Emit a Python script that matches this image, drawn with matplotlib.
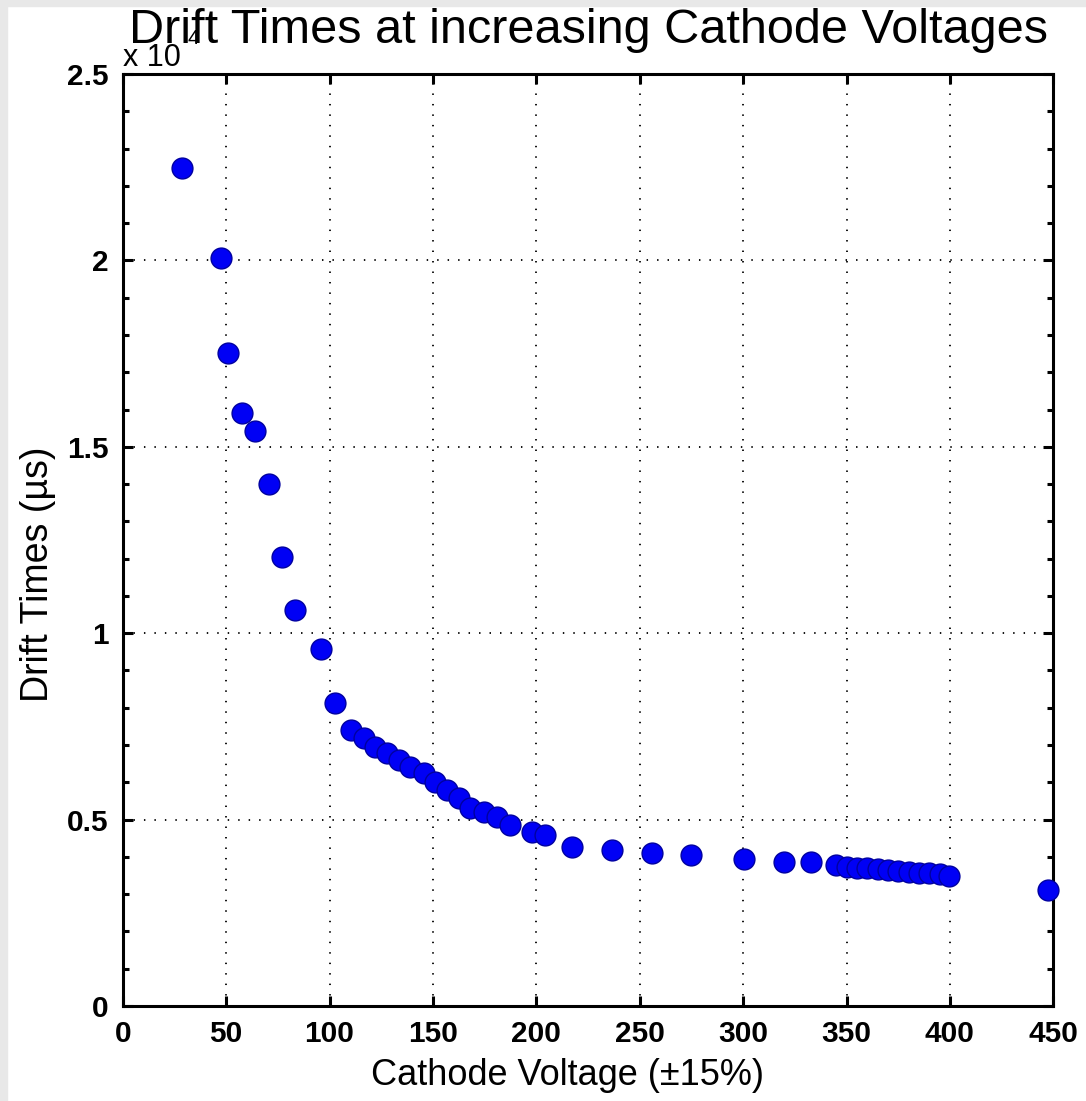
import matplotlib
matplotlib.use('Agg')
import matplotlib.pyplot as plt
from matplotlib.ticker import MultipleLocator
from matplotlib.patches import Rectangle

# cathode voltage (V) and drift times (us)
voltage = [28.6, 47.4, 51.1, 57.6, 64.0, 70.5, 77.2, 83.5, 96.1, 102.8,
           110.2, 116.5, 122.1, 127.8, 133.4, 139.1, 145.5, 151.2, 156.8,
           162.4, 168.1, 174.5, 181.0, 187.5, 198.0, 204.4, 217.3, 236.7,
           256.0, 274.6, 300.4, 319.7, 332.7,
           345, 350, 355, 360, 365, 370, 375, 380, 385, 390, 395, 399.5,
           447.2]
drift = [22470, 20070, 17520, 15900, 15420, 13990, 12040, 10620, 9580, 8130,
         7400, 7180, 6960, 6780, 6600, 6420, 6240, 6020, 5790,
         5570, 5300, 5210, 5080, 4860, 4680, 4590, 4270, 4180,
         4100, 4050, 3940, 3870, 3860,
         3780, 3740, 3710, 3690, 3670, 3650, 3620, 3600, 3580, 3560, 3540, 3500,
         3110]

xticks = [0, 50, 100, 150, 200, 250, 300, 350, 400, 450]
yticks = [0, 0.5, 1, 1.5, 2, 2.5]
ytick_labels = ['0', '0.5', '1', '1.5', '2', '2.5']

plt.rcParams['font.family'] = ['Liberation Sans', 'DejaVu Sans']

fig = plt.figure(figsize=(10.86, 11.01), dpi=100, facecolor='white')
# grey border strips of the screenshot
fig.patches.append(Rectangle((0, 0), 7 / 1086, 1, transform=fig.transFigure,
                             color='#e8e8e8', zorder=0))
fig.patches.append(Rectangle((0, 1 - 6 / 1101), 1, 6 / 1101, transform=fig.transFigure,
                             color='#e8e8e8', zorder=0))

ax = fig.add_axes([0.1130, 0.0863, 0.8569, 0.8465])

ax.plot(voltage, [d / 1e4 for d in drift], 'o', color='#0000f5',
        markeredgecolor='#0000a0', markeredgewidth=1.0, markersize=15,
        clip_on=False, zorder=3)

ax.set_xlim(0, 450)
ax.set_ylim(0, 2.5)
ax.set_xticks(xticks)
ax.set_yticks(yticks)
ax.set_yticklabels(ytick_labels)
ax.yaxis.set_minor_locator(MultipleLocator(0.1))

ax.grid(True, which='major', color='black', linestyle=(0, (0.8, 5)), linewidth=1.3)
ax.tick_params(which='both', direction='in', top=True, right=True, width=2.2)
ax.tick_params(which='major', length=7, labelsize=21.5, pad=10)
ax.tick_params(which='minor', length=4)
for lab in ax.get_xticklabels() + ax.get_yticklabels():
    lab.set_fontweight('bold')
for sp in ax.spines.values():
    sp.set_linewidth(2.2)

ax.set_xlabel('Cathode Voltage (\u00b115%)', fontsize=26)
ax.xaxis.set_label_coords(0.4775, -0.056)
ax.set_ylabel('Drift Times (\u00b5s)', fontsize=27)
ax.yaxis.set_label_coords(-0.072, 0.4635)

# exponent label, partly hidden under the title like in the original
fig.text(123 / 1086, 1 - 66 / 1101, 'x 10', fontsize=22, ha='left', va='baseline')
fig.text(187 / 1086, 1 - 44 / 1101, '4', fontsize=15, ha='left', va='baseline',
         zorder=-1)

ax.set_title('Drift Times at increasing Cathode Voltages', fontsize=35, pad=22)

fig.savefig('out.png', dpi=100)
